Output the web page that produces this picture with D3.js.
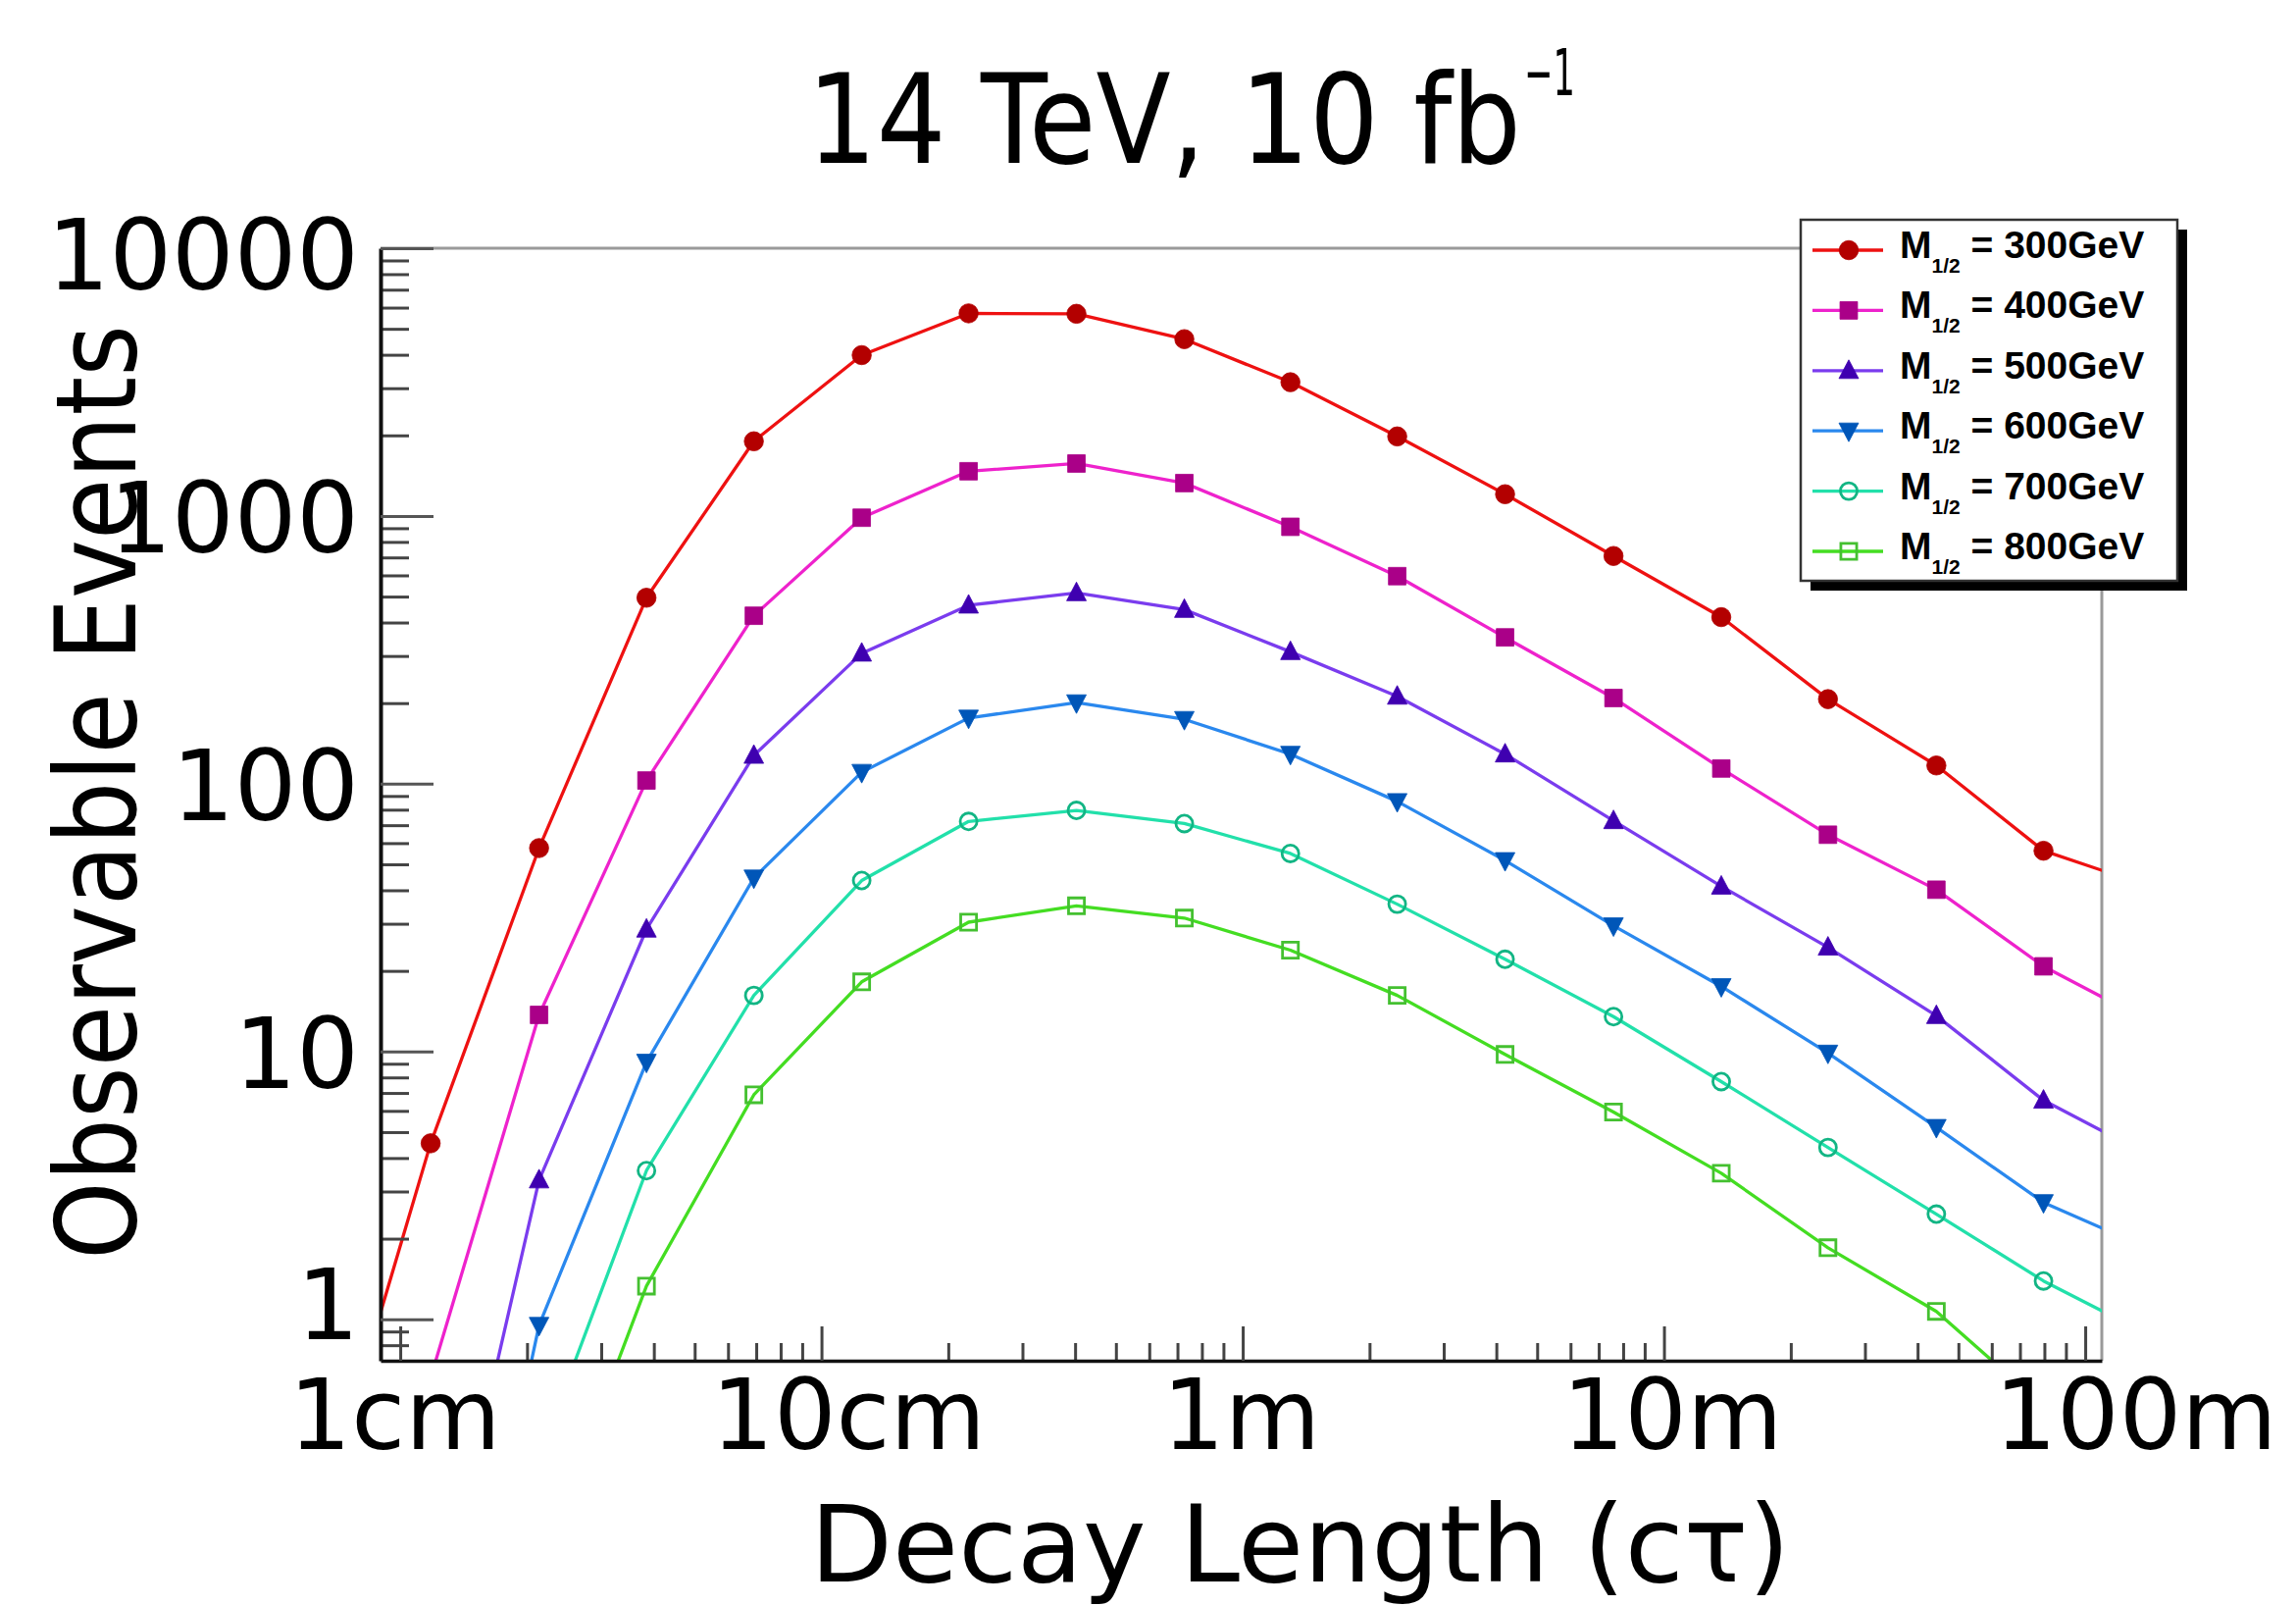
<!DOCTYPE html>
<html><head><meta charset="utf-8">
<script src="https://cdn.jsdelivr.net/npm/d3@7"></script>
<style>body{margin:0;background:#fff;overflow:hidden}</style>
</head><body>
<svg id="c" width="2341" height="1637" xmlns="http://www.w3.org/2000/svg"></svg>
<script>
// ---- data (decay length in metres, observable events) ----
const decayLength = [0.00656, 0.01181, 0.02136, 0.03842, 0.0691, 0.1246, 0.2235, 0.403, 0.7268, 1.298, 2.327, 4.196, 7.59, 13.68, 24.51, 44.33, 79.62, 143.3];
const m300 = [0.2, 4.54, 57.5, 495, 1901, 3988, 5710, 5690, 4575, 3159, 1982, 1206, 709, 419, 207, 117, 56.2, 41.2];
const m400 = [null, 0.605, 13.7, 102.8, 424, 985, 1469, 1570, 1327, 911, 596, 352, 209, 114, 64.5, 40.2, 20.8, 12.8];
const m500 = [null, 0.057, 3.31, 28.6, 127.5, 307, 464, 516, 447, 311, 212, 129, 72.7, 41.4, 24.5, 13.6, 6.57, 4.05];
const m600 = [null, 0.012, 0.95, 9.13, 44.5, 110.4, 176, 200.8, 174, 129, 85.9, 51.7, 29.5, 17.5, 9.87, 5.21, 2.73, 1.82];
const m700 = [null, null, 0.306, 3.59, 16.2, 43.5, 72.3, 79.5, 71.0, 54.9, 35.5, 22.1, 13.5, 7.72, 4.38, 2.47, 1.39, 0.866];
const m800 = [null, null, 0.116, 1.33, 6.89, 18.2, 30.4, 35.0, 31.5, 23.9, 16.2, 9.75, 5.94, 3.51, 1.85, 1.07, 0.474, null];
const massLabels = ["300GeV", "400GeV", "500GeV", "600GeV", "700GeV", "800GeV"];
const xTickValues = [0.01, 0.1, 1, 10, 100];
const xTickLabels = ["1cm", "10cm", "1m", "10m", "100m"];
const yTickValues = [1, 10, 100, 1000, 10000];
const yTickLabels = ["1", "10", "100", "1000", "10000"];

// ---- styles ----
const seriesValues = [m300, m400, m500, m600, m700, m800];
const lineColors   = ["#ee1111", "#ee22cc", "#7a3cee", "#2a88ee", "#22e0aa", "#44dd22"];
const markColors   = ["#b30000", "#aa0088", "#3f00b0", "#0056b8", "#12b584", "#44c030"];
const markTypes    = ["circle", "square", "triUp", "triDown", "openCircle", "openSquare"];
const xLabelNudge  = [-6, 27, -2, 8, 51];
const yLabelNudge  = [-17, 0, 0, 0, 4];

const W = 2341, H = 1637;
const P = {l: 388, r: 2143, t: 253, b: 1387};
const FONT = "'DejaVu Sans', Verdana, sans-serif";

const svg = d3.select("#c");
svg.append("rect").attr("width", W).attr("height", H).attr("fill", "#fff");

const x = d3.scaleLog().domain([0.00898, 109.5]).range([P.l, P.r]);
const y = d3.scaleLog().domain([0.7, 10000]).range([P.b, P.t]);

// frame (top/right, grey)
svg.append("line").attr("x1", P.l).attr("x2", P.r).attr("y1", P.t).attr("y2", P.t)
  .attr("stroke", "#9a9a9a").attr("stroke-width", 3);
svg.append("line").attr("x1", P.r).attr("x2", P.r).attr("y1", P.t).attr("y2", P.b)
  .attr("stroke", "#9a9a9a").attr("stroke-width", 3);

// clip
svg.append("defs").append("clipPath").attr("id", "plotclip")
  .append("rect").attr("x", P.l).attr("y", P.t).attr("width", P.r - P.l).attr("height", P.b - P.t);

function markerPath(type) {
  switch (type) {
    case "circle": return d3.symbol(d3.symbolCircle, 300)();
    case "square": return d3.symbol(d3.symbolSquare, 320)();
    case "triUp": return "M0,-11L10,8L-10,8Z";
    case "triDown": return "M0,11L10,-8L-10,-8Z";
    case "openCircle": return d3.symbol(d3.symbolCircle, 230)();
    case "openSquare": return d3.symbol(d3.symbolSquare, 260)();
  }
}
function styleMarker(sel, i) {
  const open = markTypes[i].startsWith("open");
  sel.attr("d", markerPath(markTypes[i]))
    .attr("fill", open ? "none" : markColors[i])
    .attr("stroke", markColors[i])
    .attr("stroke-width", open ? 2.8 : 0.8);
}

const gData = svg.append("g").attr("clip-path", "url(#plotclip)");
const line = d3.line()
  .defined(d => d[1] != null)
  .x(d => x(d[0])).y(d => y(d[1]));

seriesValues.forEach((vals, i) => {
  const pts = decayLength.map((d, k) => [d, vals[k]]);
  gData.append("path").datum(pts).attr("d", line)
    .attr("fill", "none").attr("stroke", lineColors[i]).attr("stroke-width", 3.3)
    .attr("stroke-linejoin", "round");
});
seriesValues.forEach((vals, i) => {
  const pts = decayLength.map((d, k) => [d, vals[k]]).filter(d => d[1] != null);
  gData.selectAll(null).data(pts).enter().append("path")
    .attr("transform", d => `translate(${x(d[0])},${y(d[1])})`)
    .call(styleMarker, i);
});

// ---- axes ----
function logMinors(lo, hi, from, to) {
  const out = [];
  for (let e = lo; e <= hi; e++) for (let m = 2; m <= 9; m++) {
    const v = m * Math.pow(10, e);
    if (v >= from && v <= to) out.push(v);
  }
  return out;
}
const xMinor = logMinors(-2, 1, 0.0095, 109);
const yMinor = logMinors(-1, 3, 0.75, 10000);

// x axis
svg.append("g").attr("transform", `translate(0,${P.b})`)
  .call(d3.axisBottom(x).tickValues(xMinor).tickSize(-18).tickFormat(""))
  .call(g => g.select(".domain").remove())
  .call(g => g.selectAll(".tick line").attr("stroke", "#444").attr("stroke-width", 3));
const xAx = svg.append("g").attr("transform", `translate(0,${P.b})`)
  .call(d3.axisBottom(x).tickValues(xTickValues).tickSizeInner(-35).tickSizeOuter(0)
    .tickPadding(19).tickFormat((d, k) => xTickLabels[k]));
xAx.select(".domain").attr("stroke", "#111").attr("stroke-width", 3.5);
xAx.selectAll(".tick line").attr("stroke", "#444").attr("stroke-width", 3);
xAx.selectAll(".tick text").attr("font-family", FONT).attr("font-size", 100)
  .attr("fill", "#000").attr("dx", (d, k) => xLabelNudge[k]);

// y axis
svg.append("g").attr("transform", `translate(${P.l},0)`)
  .call(d3.axisLeft(y).tickValues(yMinor).tickSize(-29).tickFormat(""))
  .call(g => g.select(".domain").remove())
  .call(g => g.selectAll(".tick line").attr("stroke", "#444").attr("stroke-width", 3));
const yAx = svg.append("g").attr("transform", `translate(${P.l},0)`)
  .call(d3.axisLeft(y).tickValues(yTickValues).tickSizeInner(-54).tickSizeOuter(0)
    .tickPadding(22).tickFormat((d, k) => yTickLabels[k]));
yAx.select(".domain").attr("stroke", "#111").attr("stroke-width", 4);
yAx.selectAll(".tick line").attr("stroke", "#555").attr("stroke-width", 3);
yAx.selectAll(".tick text").attr("font-family", FONT).attr("font-size", 100)
  .attr("fill", "#000").attr("dy", "0.37em").attr("y", (d, k) => yLabelNudge[k]);

// ---- titles ----
const title = svg.append("text").attr("font-family", FONT);
title.append("tspan").attr("x", 823).attr("y", 166).attr("font-size", 127)
  .attr("textLength", 728).attr("lengthAdjust", "spacingAndGlyphs")
  .text("14 TeV, 10 fb");
title.append("tspan").attr("x", 1554).attr("y", 97).attr("font-size", 66)
  .attr("textLength", 52).attr("lengthAdjust", "spacingAndGlyphs")
  .text("\u22121");

svg.append("text").attr("x", 826).attr("y", 1612)
  .attr("font-family", FONT).attr("font-size", 108)
  .attr("textLength", 999).attr("lengthAdjust", "spacingAndGlyphs")
  .text("Decay Length (c\u03c4)");

svg.append("text")
  .attr("transform", "translate(138,1284) rotate(-90)")
  .attr("font-family", FONT).attr("font-size", 114)
  .attr("textLength", 953).attr("lengthAdjust", "spacingAndGlyphs")
  .text("Observable Events");

// ---- legend ----
const L = {x: 1836, y: 224, w: 384, h: 368};
svg.append("rect").attr("x", L.x + 10).attr("y", L.y + 10).attr("width", L.w).attr("height", L.h)
  .attr("fill", "#000");
svg.append("rect").attr("x", L.x).attr("y", L.y).attr("width", L.w).attr("height", L.h)
  .attr("fill", "#fff").attr("stroke", "#333").attr("stroke-width", 2.5);
massLabels.forEach((lab, i) => {
  const ry = 255 + i * 61.4;
  svg.append("line").attr("x1", 1848).attr("x2", 1920).attr("y1", ry).attr("y2", ry)
    .attr("stroke", lineColors[i]).attr("stroke-width", 3.3);
  svg.append("path").attr("transform", `translate(1885,${ry})`).call(styleMarker, i);
  const t = svg.append("text").attr("x", 1937).attr("y", ry + 8)
    .attr("font-family", "'Liberation Sans', Arial, sans-serif").attr("font-weight", "bold")
    .attr("font-size", 39).attr("fill", "#000");
  t.append("tspan").text("M");
  t.append("tspan").attr("dy", 15).attr("font-size", 21).text("1/2");
  t.append("tspan").attr("dy", -15).text(" = " + lab);
});
</script>
</body></html>
